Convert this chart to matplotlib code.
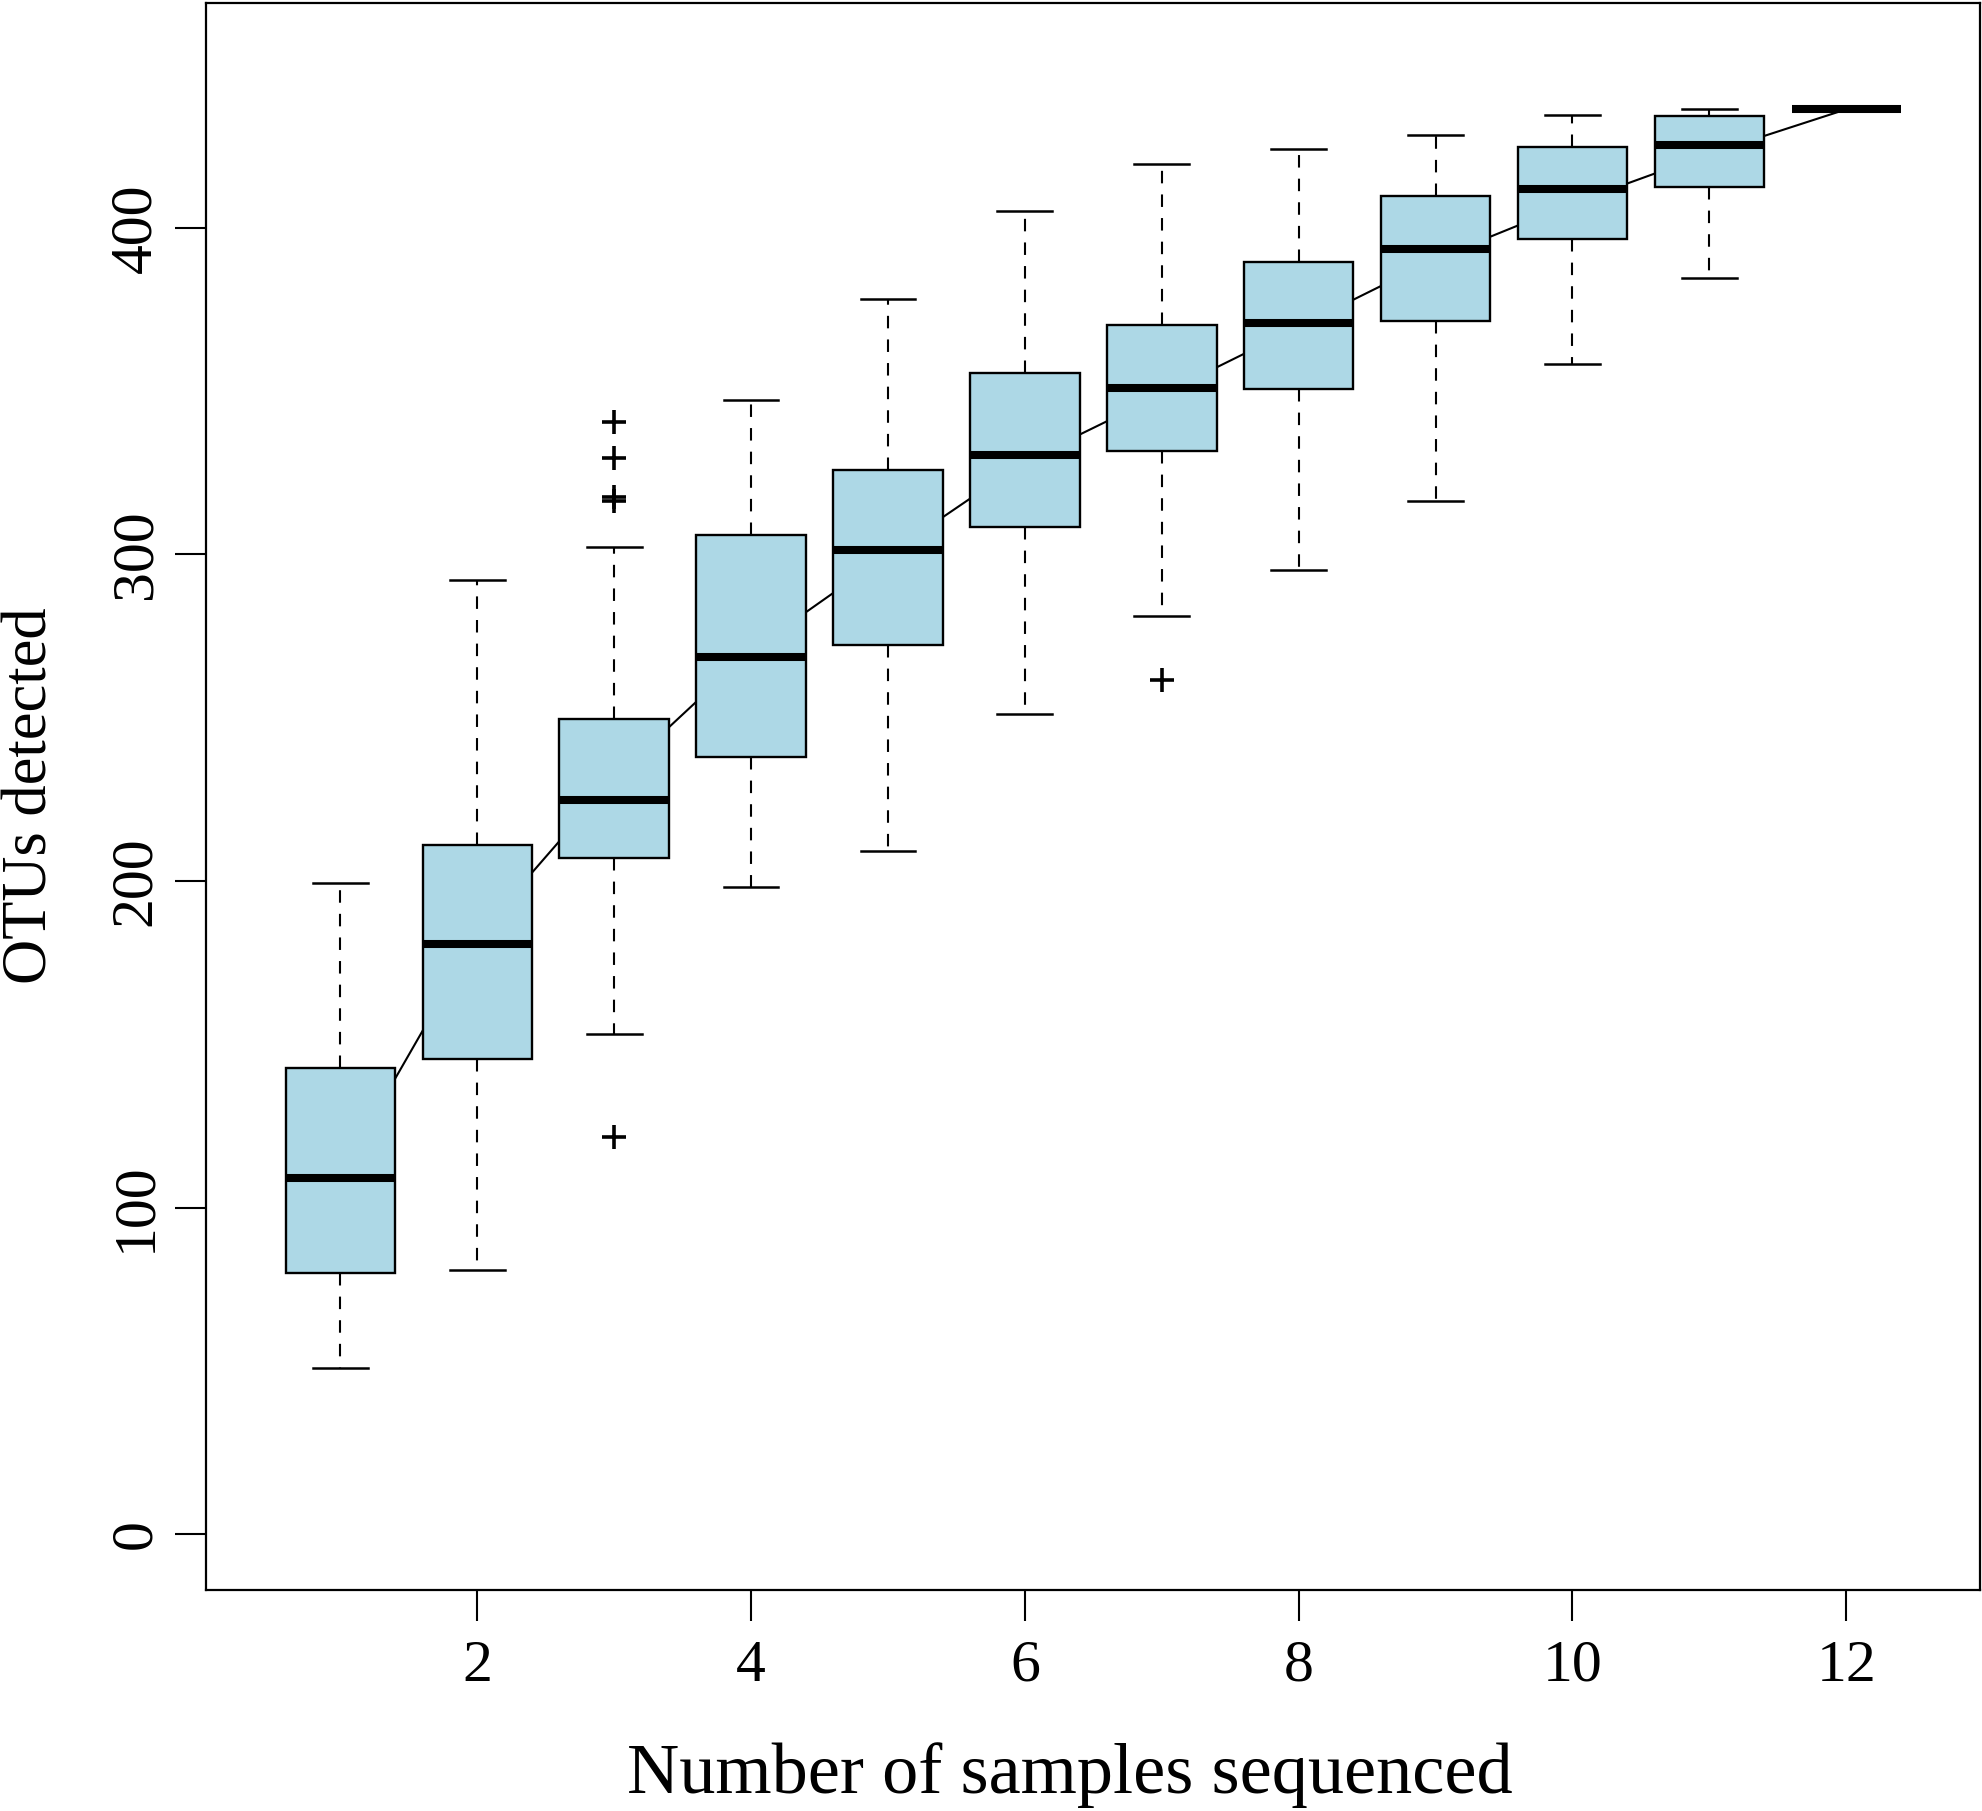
import numpy as np
import matplotlib
matplotlib.use("Agg")
import matplotlib.pyplot as plt

plt.rcParams['font.family'] = ['Liberation Serif', 'DejaVu Serif']
plt.rcParams['lines.scale_dashes'] = False

# number of samples sequenced
n_samples = [1, 2, 3, 4, 5, 6, 7, 8, 9, 10, 11, 12]
# box statistics (OTUs detected)
whisker_low = [51.0, 81.0, 153.3, 198.2, 209.2, 251.2, 281.2, 295.3, 316.3, 358.3, 384.5, 436.5]
quart1 = [80.0, 145.4, 207.2, 238.1, 272.2, 308.5, 331.7, 350.7, 371.4, 396.5, 412.4, 436.5]
medians = [109.2, 180.8, 224.8, 268.6, 301.3, 330.3, 350.9, 370.8, 393.5, 411.9, 425.4, 436.5]
quart3 = [142.8, 211.0, 249.6, 306.1, 326.0, 355.7, 370.3, 389.7, 409.8, 424.8, 434.4, 436.5]
whisker_high = [199.3, 292.2, 302.2, 347.4, 378.3, 405.3, 419.5, 424.3, 428.4, 434.5, 436.3, 436.5]
outliers = {3: [340.5, 329.5, 317.5, 316.3, 121.5], 7: [261.6]}
# mean curve
mean_otus = [110.3, 183.3, 231.5, 270.5, 300.0, 328.5, 349.0, 369.7, 390.5, 407.5, 422.7, 436.3]

stats = []
for i, n in enumerate(n_samples):
    stats.append(dict(whislo=whisker_low[i], q1=quart1[i], med=medians[i],
                      q3=quart3[i], whishi=whisker_high[i],
                      fliers=outliers.get(n, [])))

fig = plt.figure(figsize=(19.83, 18.11), dpi=100)
ax = fig.add_axes([0.104, 0.1222, 0.8947, 0.8764])

ax.plot(n_samples, mean_otus, color='black', lw=1.5, zorder=1)

ax.bxp(stats, positions=n_samples, widths=0.8, patch_artist=True,
       showfliers=True,
       boxprops=dict(facecolor='#add8e6', edgecolor='black', linewidth=1.7),
       medianprops=dict(color='black', linewidth=5.8, solid_capstyle='butt'),
       whiskerprops=dict(color='black', linewidth=1.5, linestyle=(0, (9, 8))),
       capprops=dict(color='black', linewidth=1.8),
       flierprops=dict(marker='+', markersize=17, markeredgewidth=2.6,
                       markeredgecolor='black'),
       capwidths=0.4, zorder=2)

ax.set_xlim(0.02, 12.98)
ax.set_ylim(-17, 469)
ax.set_xticks([2, 4, 6, 8, 10, 12])
ax.set_xticklabels(['2', '4', '6', '8', '10', '12'])
ax.set_yticks([0, 100, 200, 300, 400])
ax.tick_params(axis='both', direction='out', length=22, width=1.5,
               labelsize=43, pad=9)
ax.tick_params(axis='x', pad=14)
for lab in ax.get_yticklabels():
    lab.set_rotation(90)
    lab.set_va('center')
for sp in ax.spines.values():
    sp.set_linewidth(1.6)

ax.set_xlabel('Number of samples sequenced', fontsize=52)
ax.xaxis.set_label_coords(0.487, -0.1283)
ax.xaxis.label.set_verticalalignment('baseline')

ax.set_ylabel('OTUs detected', fontsize=45)
ax.yaxis.set_label_coords(-0.0899, 0.5)
ax.yaxis.label.set_verticalalignment('baseline')
ax.yaxis.label.set_rotation_mode('anchor')

fig.savefig('out.png', dpi=100)
